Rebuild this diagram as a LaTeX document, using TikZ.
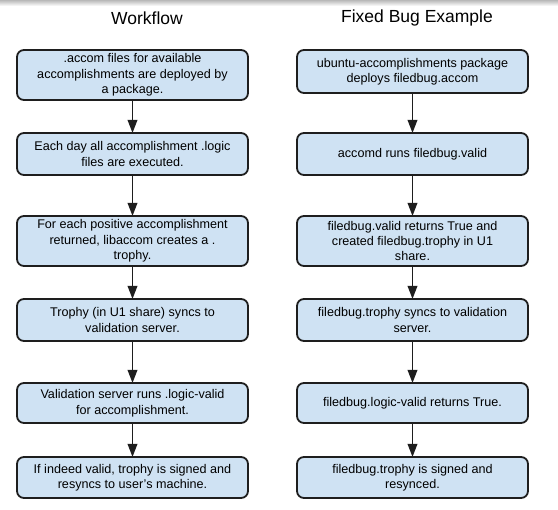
\documentclass[tikz,border=0pt]{standalone}
\usepackage{fontspec}
\setmainfont{Liberation Sans}
\usetikzlibrary{arrows.meta}
\definecolor{boxblue}{RGB}{207,226,243}
\definecolor{boxline}{RGB}{30,30,30}
\begin{document}
\begin{tikzpicture}[x=1pt,y=-1pt,inner sep=0pt,outer sep=0pt,
stepbox/.style={draw=boxline,fill=boxblue,rectangle,rounded corners=7pt,line width=1.8pt,
  minimum width=231pt,align=center,font=\fontsize{12.6}{15.5}\selectfont},
title/.style={font=\fontsize{17.5}{20}\selectfont},
flow/.style={-{Triangle[length=13pt,width=9.5pt]},line width=1.8pt,boxline}]
\useasboundingbox (0,0) rectangle (558,510);
\shade[top color=black!28,bottom color=white] (0,0) rectangle (558,6);
% titles
\draw (147,18) node[title] (tw) {Workflow};
\draw (417,18) node[title] (tf) {Fixed Bug Example};
% left column
\draw (132.5,75) node[stepbox,minimum height=50pt] (w1) {.accom files for available\\accomplishments are deployed by\\a package.};
\draw (132.5,154) node[stepbox,minimum height=42pt] (w2) {Each day all accomplishment .logic\\files are executed.};
\draw (132.5,241) node[stepbox,minimum height=50pt] (w3) {For each positive accomplishment\\returned, libaccom creates a .\\trophy.};
\draw (132.5,320) node[stepbox,minimum height=42pt] (w4) {Trophy (in U1 share) syncs to\\validation server.};
\draw (132.5,403) node[stepbox,minimum height=40pt] (w5) {Validation server runs .logic-valid\\for accomplishment.};
\draw (132.5,477.5) node[stepbox,minimum height=41pt] (w6) {If indeed valid, trophy is signed and\\resyncs to user's machine.};
% right column
\draw (412.5,71.5) node[stepbox,minimum height=43pt] (f1) {ubuntu-accomplishments package\\deploys filedbug.accom};
\draw (412.5,154) node[stepbox,minimum height=42pt] (f2) {accomd runs filedbug.valid};
\draw (412.5,241) node[stepbox,minimum height=50pt] (f3) {filedbug.valid returns True and\\created filedbug.trophy in U1\\share.};
\draw (412.5,320) node[stepbox,minimum height=42pt] (f4) {filedbug.trophy syncs to validation\\server.};
\draw (412.5,403) node[stepbox,minimum height=40pt] (f5) {filedbug.logic-valid returns True.};
\draw (412.5,477.5) node[stepbox,minimum height=41pt] (f6) {filedbug.trophy is signed and\\resynced.};
% arrows
\foreach \a/\b in {w1/w2,w2/w3,w3/w4,w4/w5,w5/w6,f1/f2,f2/f3,f3/f4,f4/f5,f5/f6}
  \draw[flow] (\a) -- (\b);
\end{tikzpicture}
\end{document}
